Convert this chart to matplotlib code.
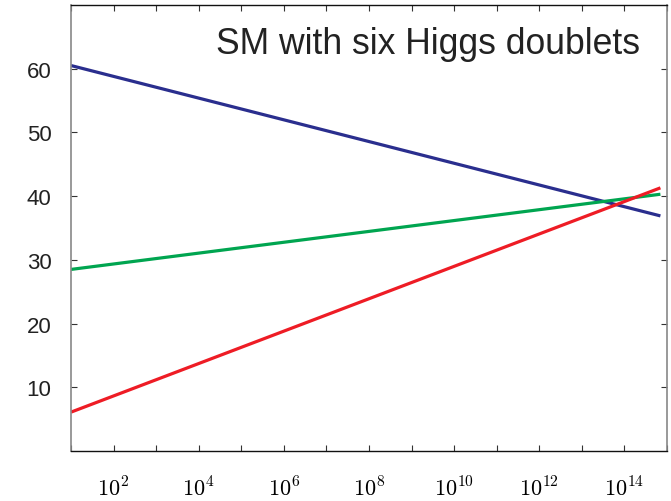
import matplotlib
matplotlib.use("Agg")
import matplotlib.pyplot as plt
import numpy as np
from matplotlib.ticker import FixedLocator, FixedFormatter

plt.rcParams['mathtext.fontset'] = 'cm'
plt.rcParams['font.family'] = ['Liberation Sans', 'DejaVu Sans']

# data: scale (GeV) endpoints and inverse couplings
x_ends = [1e1, 7e14]
alpha1_inv = [6.1, 41.3]    # red
alpha2_inv = [28.5, 40.3]   # green
alpha3_inv = [60.5, 36.9]   # blue
yticks = [10, 20, 30, 40, 50, 60]
xlabel_pows = [2, 4, 6, 8, 10, 12, 14]
title = "SM with six Higgs doublets"

fig = plt.figure(figsize=(6.71, 5.02), dpi=100)
ax = fig.add_axes([71/671, 1-452/502, (667-71)/671, (452-6)/502])

ax.plot(x_ends, alpha3_inv, color='#2a2e8e', lw=2.3, solid_capstyle='butt')
ax.plot(x_ends, alpha2_inv, color='#00a550', lw=2.3, solid_capstyle='butt')
ax.plot(x_ends, alpha1_inv, color='#ee1c25', lw=2.3, solid_capstyle='butt')

ax.set_xscale('log')
ax.set_xlim(1e1, 1e15)
ax.set_ylim(0, 70)

ax.xaxis.set_major_locator(FixedLocator([10.0**p for p in xlabel_pows]))
ax.xaxis.set_major_formatter(FixedFormatter([r'$10^{%d}$' % p for p in xlabel_pows]))
ax.xaxis.set_minor_locator(FixedLocator([10.0**p for p in range(1, 16, 2)]))
ax.xaxis.set_minor_formatter(FixedFormatter([]))
ax.set_yticks(yticks)
ax.set_yticklabels([str(v) for v in yticks])

ax.tick_params(axis='both', which='both', direction='in', top=True, right=True,
               length=4, width=0.8, color='#333333')
ax.tick_params(axis='x', which='major', labelsize=16, pad=18)
ax.tick_params(axis='y', which='major', labelsize=16, pad=14, labelcolor='#222222')

for s in ['left', 'right']:
    ax.spines[s].set_color('#888888')
    ax.spines[s].set_linewidth(1.2)
for s in ['top', 'bottom']:
    ax.spines[s].set_color('#111111')
    ax.spines[s].set_linewidth(1.0)

ax.text(0.955, 0.914, title, transform=ax.transAxes, ha='right', va='center',
        fontsize=25.6, color='#222222')

fig.savefig('out.png', dpi=100)
